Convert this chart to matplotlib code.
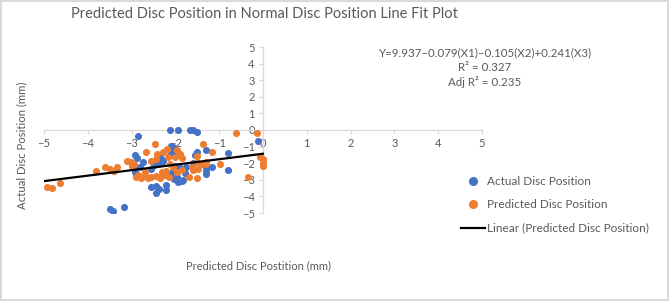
import numpy as np
import matplotlib
matplotlib.use("Agg")
import matplotlib.pyplot as plt
from matplotlib.lines import Line2D

plt.rcParams['font.family'] = ['Lato', 'DejaVu Sans']

# actual disc position (blue)
actual_x = [-2.85, -2.93, -2.87, -2.95, -2.93, -2.90, -2.80, -2.75,
            -3.50, -3.43, -3.18,
            -2.45, -2.45, -2.38, -2.22, -2.22, -2.55,
            -2.13, -1.94, -1.67, -1.59, -1.50,
            -2.06, -2.09, -2.05, -2.13,
            -2.30, -2.36, -2.28, -2.40, -2.50, -2.55,
            -1.97, -1.86, -1.82, -2.04, -1.94, -1.78, -2.10,
            -1.55, -1.51, -1.30, -1.30, -1.30, -1.30, -1.17,
            -1.60, -1.75, -1.90, -2.00,
            -0.81, -0.81, -0.12]
actual_y = [-0.39, -1.53, -1.68, -2.30, -2.55, -2.75, -2.20, -1.95,
            -4.78, -4.88, -4.62,
            -3.35, -3.80, -3.55, -3.32, -3.62, -3.45,
            0.00, 0.00, 0.00, 0.00, -0.10,
            -1.05, -0.95, -1.33, -1.53,
            -1.80, -1.63, -1.85, -2.03, -2.10, -2.35,
            -2.85, -3.10, -3.02, -2.98, -3.12, -2.62, -2.60,
            -1.53, -1.33, -1.19, -2.22, -2.46, -2.67, -2.20,
            -2.00, -2.20, -2.30, -2.15,
            -1.39, -2.43, -0.67]

# predicted disc position (orange)
pred_x = [-4.94, -4.81, -4.63,
          -3.81, -3.60, -3.50, -3.40, -3.33,
          -3.10, -3.02, -2.95, -3.00,
          -2.90, -2.85, -2.78, -2.70, -2.62, -2.55, -2.70,
          -2.68, -2.47, -2.55, -2.45,
          -2.28, -2.20, -2.16, -2.43,
          -2.30, -2.22, -2.15, -2.35, -2.45, -2.25,
          -1.90, -1.96, -2.01, -1.85,
          -1.86, -1.97, -2.05, -2.13,
          -1.70, -1.63, -1.60, -1.50, -1.42, -1.48, -1.50, -1.50,
          -1.36, -1.17, -1.29, -1.30, -0.98,
          -0.61, -0.13, -0.35,
          -0.06, 0.00, 0.00, 0.00]
pred_y = [-3.42, -3.52, -3.18,
          -2.47, -2.23, -2.33, -2.47, -2.23,
          -1.87, -1.95, -2.05, -2.15,
          -2.85, -2.72, -2.90, -2.80, -2.92, -2.85, -2.55,
          -1.33, -0.85, -1.85, -1.75,
          -1.33, -1.13, -1.63, -1.43,
          -2.55, -2.45, -2.85, -2.90, -2.75, -2.70,
          -1.43, -1.23, -1.63, -1.70,
          -2.42, -2.52, -2.23, -2.03,
          -2.86, -2.23, -2.38, -1.93, -2.03, -2.33, -2.92, -1.59,
          -0.87, -1.33, -1.93, -2.05, -2.07,
          -0.19, -0.19, -2.86,
          -1.63, -1.73, -1.98, -2.18]

# linear trendline of predicted series
trend_slope = 0.33
trend_intercept = -1.43
trend_range = [-5, 0]

equation = "Y=9.937\u20130.079(X1)\u20130.105(X2)+0.241(X3)\nR\u00b2 = 0.327\nAdj R\u00b2 = 0.235"

blue = '#4472C4'
orange = '#ED7D31'
grey = '#595959'
axis_grey = '#d9d9d9'

fig = plt.figure(figsize=(6.69, 3.01), dpi=100)
fig.patch.set_edgecolor(axis_grey)
fig.patch.set_linewidth(1.5)

ax = fig.add_axes([44 / 669, 1 - 213 / 301, 438 / 669, 166 / 301])
ax.scatter(actual_x, actual_y, s=26, color=blue, linewidths=0, zorder=3)
ax.scatter(pred_x, pred_y, s=26, color=orange, linewidths=0, zorder=3)
tx = np.array(trend_range)
ax.plot(tx, trend_intercept + trend_slope * tx, color='black', lw=1.6, zorder=4)

ax.set_xlim(-5, 5)
ax.set_ylim(-5, 5)
ax.set_xticks(range(-5, 6))
ax.set_yticks(range(-5, 6))
for side in ['top', 'right']:
    ax.spines[side].set_visible(False)
for side in ['left', 'bottom']:
    ax.spines[side].set_position(('data', 0))
    ax.spines[side].set_color(axis_grey)
    ax.spines[side].set_linewidth(0.9)
ax.tick_params(colors=axis_grey, labelcolor=grey, labelsize=8, length=3, width=0.9, pad=3)
ax.patch.set_alpha(0)

fig.text(264 / 669, 1 - 14 / 301, "Predicted Disc Position in Normal Disc Position Line Fit Plot",
         ha='center', va='center', fontsize=10.5, color=grey)
fig.text(485 / 669, 1 - 68 / 301, equation, ha='center', va='center',
         fontsize=8.3, color=grey, linespacing=1.35)
fig.text(22 / 669, 1 - 145 / 301, "Actual Disc Position (mm)", rotation=90,
         ha='center', va='center', fontsize=8.2, color=grey)
fig.text(259 / 669, 1 - 266 / 301, "Predicted Disc Postition (mm)",
         ha='center', va='center', fontsize=8.0, color=grey)

handles = [Line2D([], [], ls='none', marker='o', ms=5.5, color=blue),
           Line2D([], [], ls='none', marker='o', ms=5.5, color=orange),
           Line2D([], [], color='black', lw=1.6)]
labels = ["Actual Disc Position", "Predicted Disc Position", "Linear (Predicted Disc Position)"]
fig.legend(handles, labels, loc='upper left', bbox_to_anchor=(461 / 669, 1 - 176 / 301),
           frameon=False, fontsize=8.5, labelcolor=grey, handlelength=2.0,
           handletextpad=0.2, labelspacing=1.05, borderpad=0, borderaxespad=0)

fig.savefig("out.png", dpi=100)
